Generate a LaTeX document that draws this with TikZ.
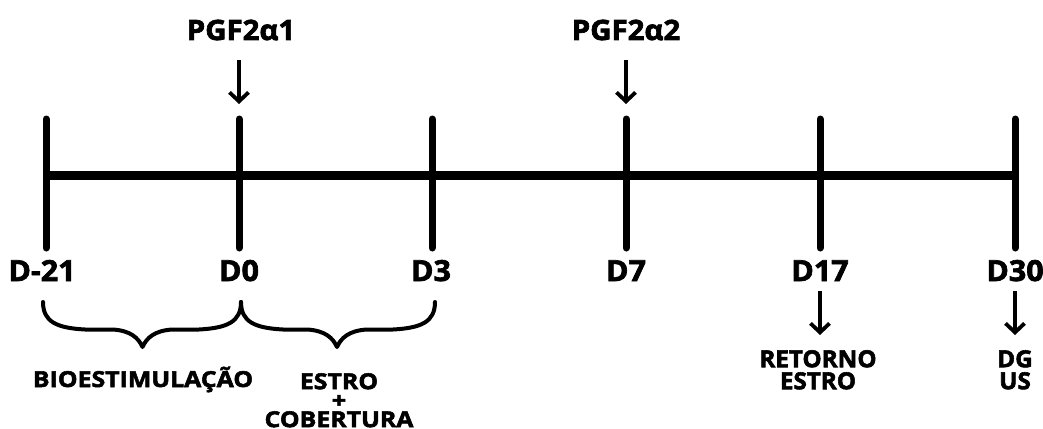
\documentclass[tikz,border=0pt]{standalone}
\usepackage{fontspec}
\setmainfont{Open Sans}
\newfontfamily\fA{Open Sans}[BoldFeatures={FakeBold=2.4,FakeStretch=1.05}]
\newfontfamily\fB{Open Sans}[BoldFeatures={FakeBold=2.4,FakeStretch=1.13}]
\newfontfamily\fC{Open Sans}[BoldFeatures={FakeBold=2.4,FakeStretch=1.03}]
\usetikzlibrary{arrows.meta}
\begin{document}
\begin{tikzpicture}[x=1pt,y=-1pt,
  tick/.style={line width=7pt,line cap=round},
  axis/.style={line width=9pt},
  pointer/.style={line width=3.8pt,-{Straight Barb[length=9pt,width=19pt,line width=3.8pt]}},
  bracepath/.style={line width=4pt,line cap=round,line join=round},
  daylab/.style={inner sep=0pt,anchor=base,font=\fA\fontsize{29}{29}\selectfont\bfseries},
  druglab/.style={inner sep=0pt,anchor=base,font=\fA\fontsize{28}{28}\selectfont\bfseries},
  phaselab/.style={inner sep=0pt,align=center,font=\fB\fontsize{22}{19}\selectfont\bfseries},
  notelab/.style={inner sep=0pt,align=center,anchor=north,font=\fC\fontsize{23.5}{22}\selectfont\bfseries}]
\useasboundingbox (0,0) rectangle (1043,428);
% tick coordinates
\foreach \n/\x in {a/46,b/239,c/432,d/626,e/820,f/1015}{
  \coordinate (top-\n) at (\x,119);
  \coordinate (bot-\n) at (\x,248);
  \coordinate (mid-\n) at (\x,175);
}
\draw[axis] (mid-a) -- (mid-f);
\foreach \n in {a,b,c,d,e,f}{\draw[tick] (top-\n) -- (bot-\n);}
% day labels
\node[daylab] (dA) at (42,281) {D-21};
\node[daylab] (dB) at (239,281) {D0};
\node[daylab] (dC) at (431,281) {D3};
\node[daylab] (dD) at (626,281) {D7};
\node[daylab] (dE) at (820,281) {D17};
\node[daylab] (dF) at (1015,281) {D30};
% drug labels and arrows
\node[druglab] (p1) at (241,40) {PGF2α1};
\node[druglab] (p2) at (626,40) {PGF2α2};
\coordinate (p1s) at (239,60); \coordinate (p1e) at (239,104);
\coordinate (p2s) at (626,60); \coordinate (p2e) at (626,104);
\draw[pointer] (p1s) -- (p1e);
\draw[pointer] (p2s) -- (p2e);
% bottom arrows
\coordinate (e1) at (820,291); \coordinate (e2) at (820,335);
\coordinate (f1) at (1015,291); \coordinate (f2) at (1015,335);
\draw[pointer] (e1) -- (e2);
\draw[pointer] (f1) -- (f2);
\node[notelab] (ret) at (818,350) {RETORNO\\ESTRO};
\node[notelab] (dg) at (1015,350) {DG\\US};
% braces
\foreach \xa/\xm/\xb in {43/142.5/241, 241/337/435}{
  \draw[bracepath] (\xa,302) .. controls (\xa,322) and (\xa+14,328) .. (\xa+42,329.5)
    -- (\xm-30,329.5) .. controls (\xm-12,330.5) and (\xm-4,338) .. (\xm,347)
    .. controls (\xm+4,338) and (\xm+12,330.5) .. (\xm+30,329.5)
    -- (\xb-42,329.5) .. controls (\xb-14,328) and (\xb,322) .. (\xb,302);
}
\node[phaselab,anchor=base] (bio) at (143,387) {BIOESTIMULAÇÃO};
\node[phaselab,anchor=north] (est) at (339,373) {ESTRO\\+\\COBERTURA};
\end{tikzpicture}
\end{document}
